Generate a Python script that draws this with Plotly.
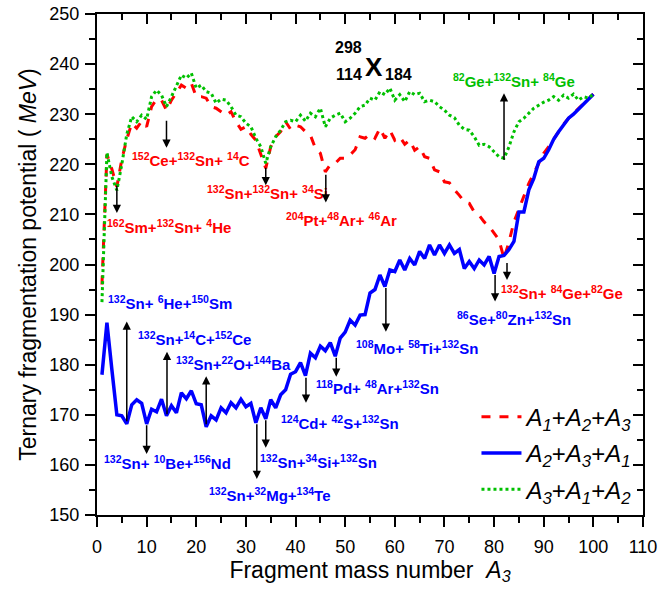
import plotly.graph_objects as go

# ---------------- data ----------------
A3 = list(range(1, 101))

red_A1A2A3 = [196, 222, 219, 215.5, 221, 225, 228.2, 227.2, 228.6, 227.5,
              231.5, 233, 232.8, 230.8, 232.8, 234.2, 235.8, 235.2, 236.2, 233.5,
              233.5, 233.2, 231.5, 231.2, 230.5, 229.8, 230.5, 228.5, 227, 227.5,
              226, 224.8, 222, 219.2, 223.5, 225.5, 226.5, 228.5, 227, 227.8,
              227.5, 226.5, 225.8, 223.2, 222.2, 218.5, 219.9, 220.2, 221.2, 221.2,
              221.9, 222.9, 225.5, 225.2, 226, 225.2, 227.2, 225.2, 226.8, 224.8,
              225.5, 224, 224.8, 222.8, 223.5, 221.5, 221.2, 218.9, 218.5, 216.5,
              216.3, 214.9, 213.8, 212.5, 212.2, 210.5, 209.8, 208.5, 207.6, 206.2,
              204.9, 201.2, 204.5, 208.5, 211, 213.5, 216.2, 218.2, 220.2, 222.2,
              223.5, 225, 226.5, 228, 229.2, 230.2, 231, 232.2, 233.2, 234]

blue_A2A3A1 = [178, 188.4, 179, 170, 169.8, 168.2, 172, 173, 172.3, 168.2,
               171.1, 170.6, 173.1, 169.8, 171.8, 170.4, 174.4, 173.2, 174.8, 172.2,
               172, 167.6, 169.8, 169, 171.4, 170.4, 172.4, 171.4, 173.1, 171.6,
               172.3, 168.4, 171.4, 169.2, 173, 171.4, 174, 175, 178.1, 178.6,
               180.4, 177.8, 182.3, 181.4, 183.7, 182.8, 184.4, 181.7, 185.3, 186.5,
               188.9, 187.9, 189.9, 190, 194.3, 195, 197.9, 195.6, 198.9, 198.6,
               200.9, 198.9, 201.2, 199.9, 202.6, 201.2, 203.9, 201.9, 203.9, 202.2,
               203.9, 202.2, 203, 199.2, 200.6, 199.2, 200.9, 199.9, 201.6, 198.2,
               201.6, 201.8, 203, 204.6, 210.5, 210.5, 214.9, 217.2, 220.5, 221.2,
               222.9, 225, 226.5, 228, 229.2, 230, 231, 232, 233, 234]

green_A3A1A2 = [192.5, 222.3, 217.5, 214.8, 220, 226, 229.5, 228.5, 229.8, 229,
                233.5, 234.8, 233.8, 231.5, 233.5, 235.5, 237.8, 237.2, 238.2, 235.2,
                235.8, 234.5, 234.2, 232.2, 233, 232.8, 231.5, 229.8, 229.5, 228.2,
                227.5, 225.2, 223.5, 220.2, 223.5, 225.5, 226.8, 228.5, 228.8, 228.5,
                229.8, 228.6, 230.2, 229.5, 231.2, 227.5, 229.2, 229.8, 230.2, 228.5,
                229.2, 230.2, 231.5, 231.8, 233.2, 232.8, 234.5, 233.9, 235.2, 232.8,
                233.9, 232.5, 234.5, 233.9, 234.2, 232.5, 232.8, 232.5, 231.5, 230.8,
                229.8, 229.3, 227.8, 227, 226.8, 225.5, 223.8, 224, 223.5, 222.5,
                221.5, 221.2, 223.5, 226.5, 228.5, 229.2, 230.2, 231.2, 231.8, 232.4,
                232.8, 233.5, 232.8, 233.8, 233.2, 234, 232.8, 233.5, 233.2, 234]

series_names = ["<i>A</i><sub><i>1</i></sub>+<i>A</i><sub><i>2</i></sub>+<i>A</i><sub><i>3</i></sub>",
                "<i>A</i><sub><i>2</i></sub>+<i>A</i><sub><i>3</i></sub>+<i>A</i><sub><i>1</i></sub>",
                "<i>A</i><sub><i>3</i></sub>+<i>A</i><sub><i>1</i></sub>+<i>A</i><sub><i>2</i></sub>"]

# labels: (text, x, y, colour)
labels = [
    ("<sup>152</sup>Ce+<sup>132</sup>Sn+ <sup>14</sup>C", 19.0, 220.9, "red"),
    ("<sup>132</sup>Sn+<sup>132</sup>Sn+ <sup>34</sup>Si", 34.3, 214.3, "red"),
    ("<sup>162</sup>Sm+<sup>132</sup>Sn+ <sup>4</sup>He", 14.6, 207.5, "red"),
    ("<sup>204</sup>Pt+<sup>48</sup>Ar+ <sup>46</sup>Ar", 49.2, 208.9, "red"),
    ("<sup>132</sup>Sn+ <sup>84</sup>Ge+<sup>82</sup>Ge", 93.7, 194.5, "red"),
    ("<sup>82</sup>Ge+<sup>132</sup>Sn+ <sup>84</sup>Ge", 84.0, 236.8, "green"),
    ("<sup>132</sup>Sn+ <sup>6</sup>He+<sup>150</sup>Sm", 14.8, 192.5, "blue"),
    ("<sup>132</sup>Sn+<sup>14</sup>C+<sup>152</sup>Ce", 19.6, 185.3, "blue"),
    ("<sup>132</sup>Sn+<sup>22</sup>O+<sup>144</sup>Ba", 27.4, 180.3, "blue"),
    ("<sup>132</sup>Sn+ <sup>10</sup>Be+<sup>156</sup>Nd", 14.2, 160.4, "blue"),
    ("<sup>132</sup>Sn+<sup>32</sup>Mg+<sup>134</sup>Te", 34.9, 154.0, "blue"),
    ("<sup>132</sup>Sn+<sup>34</sup>Si+<sup>132</sup>Sn", 44.6, 160.6, "blue"),
    ("<sup>124</sup>Cd+ <sup>42</sup>S+<sup>132</sup>Sn", 49.0, 168.4, "blue"),
    ("<sup>118</sup>Pd+ <sup>48</sup>Ar+<sup>132</sup>Sn", 56.6, 175.4, "blue"),
    ("<sup>108</sup>Mo+ <sup>58</sup>Ti+<sup>132</sup>Sn", 64.5, 183.5, "blue"),
    ("<sup>86</sup>Se+<sup>80</sup>Zn+<sup>132</sup>Sn", 84.0, 189.3, "blue"),
]

# arrows: (x, y_start, y_end) head at y_end
arrows = [
    (14, 229.0, 223.3), (34, 219.6, 215.8), (4, 216.0, 210.3), (46.1, 218.2, 212.4),
    (82.6, 200.6, 196.9), (82.0, 220.6, 234.2),
    (6, 168.4, 188.6), (14.1, 169.8, 182.6), (22, 167.8, 177.7),
    (10, 168.2, 162.2), (32.2, 168.4, 157.2), (34.0, 169.2, 163.4),
    (42.1, 177.7, 172.4), (48.2, 181.7, 177.6), (58.2, 195.6, 186.6), (80.2, 198.2, 192.6),
]

colors = {"red": "#FF0000", "blue": "#0000FF", "green": "#00C000"}
FONT = "Liberation Sans, Arial, sans-serif"

fig = go.Figure()
fig.add_trace(go.Scatter(x=A3, y=red_A1A2A3, mode="lines", name=series_names[0],
                         legendgroup="a", line=dict(color=colors["red"], width=3, dash="dash")))
fig.add_trace(go.Scatter(x=A3, y=blue_A2A3A1, mode="lines", name=series_names[1],
                         legendgroup="b", line=dict(color=colors["blue"], width=3.5)))
fig.add_trace(go.Scatter(x=A3, y=green_A3A1A2, mode="lines", name=series_names[2],
                         legendgroup="c", line=dict(color=colors["green"], width=3, dash="dot")))
# invisible trace for mirrored (inside-tick) axes
fig.add_trace(go.Scatter(x=[None], y=[None], xaxis="x2", yaxis="y2", showlegend=False,
                         hoverinfo="skip"))

ann = []
for t, x, y, c in labels:
    ann.append(dict(x=x, y=y, xref="x", yref="y", text="<b>" + t + "</b>", showarrow=False,
                    font=dict(family=FONT, size=15, color=colors[c])))
for x, y0, y1 in arrows:
    ann.append(dict(x=x, y=y1, ax=x, ay=y0, xref="x", yref="y", axref="x", ayref="y",
                    text="", showarrow=True, arrowhead=2, arrowsize=1.1, arrowwidth=1.5,
                    arrowcolor="black"))
# nucleus title
ann += [
    dict(x=0.4615, y=0.954, xref="paper", yref="paper", text="<b>298</b>", showarrow=False,
         font=dict(family=FONT, size=16, color="black")),
    dict(x=0.4615, y=0.900, xref="paper", yref="paper", text="<b>114</b>", showarrow=False,
         font=dict(family=FONT, size=16, color="black")),
    dict(x=0.507, y=0.928, xref="paper", yref="paper", text="<b>X</b>", showarrow=False,
         font=dict(family=FONT, size=26, color="black")),
    dict(x=0.553, y=0.900, xref="paper", yref="paper", text="<b>184</b>", showarrow=False,
         font=dict(family=FONT, size=16, color="black")),
]

axis_common = dict(showgrid=False, zeroline=False, showline=True, linecolor="black",
                   linewidth=2, automargin=False)
fig.update_layout(
    width=659, height=592,
    margin=dict(l=97, r=16, t=14, b=77),
    plot_bgcolor="white", paper_bgcolor="white",
    font=dict(family=FONT, size=18, color="black"),
    xaxis=dict(range=[0, 110], tickmode="linear", tick0=0, dtick=10, ticks="outside",
               ticklen=10, tickwidth=2, tickcolor="black", ticklabelstandoff=4,
               minor=dict(dtick=5, ticks="outside", ticklen=6, tickwidth=2, tickcolor="black"),
               title=dict(text="Fragment mass number  <i>A</i><sub><i>3</i></sub>",
                          font=dict(size=23), standoff=4),
               tickfont=dict(size=18), ticklabeloverflow="allow", **axis_common),
    yaxis=dict(range=[150, 250], tickmode="linear", tick0=150, dtick=10, ticks="outside",
               ticklen=10, tickwidth=2, tickcolor="black", ticklabelstandoff=2,
               minor=dict(dtick=5, ticks="outside", ticklen=6, tickwidth=2, tickcolor="black"),
               title=dict(text="Ternary fragmentation potential ( <i>MeV</i>)",
                          font=dict(size=23), standoff=6),
               tickfont=dict(size=18), ticklabeloverflow="allow", **axis_common),
    xaxis2=dict(range=[0, 110], overlaying="x", side="top", tickmode="linear", tick0=0,
                dtick=10, ticks="inside", ticklen=10, tickwidth=2, tickcolor="black",
                minor=dict(dtick=5, ticks="inside", ticklen=6, tickwidth=2, tickcolor="black"),
                showticklabels=False, **axis_common),
    yaxis2=dict(range=[150, 250], overlaying="y", side="right", tickmode="linear", tick0=150,
                dtick=10, ticks="inside", ticklen=10, tickwidth=2, tickcolor="black",
                minor=dict(dtick=5, ticks="inside", ticklen=6, tickwidth=2, tickcolor="black"),
                showticklabels=False, **axis_common),
    legend=dict(x=0.695, y=0.24, xanchor="left", yanchor="top", bgcolor="rgba(0,0,0,0)",
                font=dict(size=24), tracegroupgap=2, itemwidth=40),
    annotations=ann,
    showlegend=True,
)

fig.write_html("out.html", config={"displayModeBar": False},
               post_script="document.body.style.margin='0px';")
